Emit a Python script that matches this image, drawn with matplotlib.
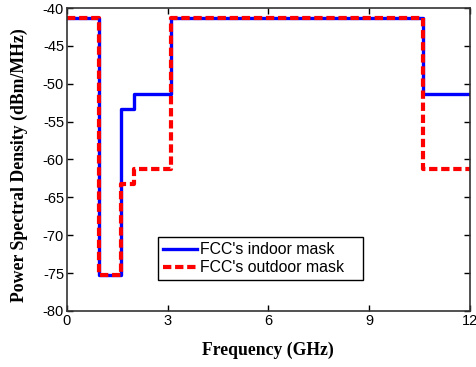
import numpy as np
import matplotlib.pyplot as plt

plt.rcParams['axes.unicode_minus'] = False

# FCC UWB emission masks (step breakpoints in GHz, limits in dBm/MHz)
freq = [0, 0.96, 1.61, 1.99, 3.1, 10.6, 12]
indoor = [-41.3, -75.3, -53.3, -51.3, -41.3, -51.3, -51.3]
outdoor = [-41.3, -75.3, -63.3, -61.3, -41.3, -61.3, -61.3]

fig = plt.figure(figsize=(4.77, 3.67), dpi=100)
ax = fig.add_axes([0.140, 0.153, 0.845, 0.825])

ax.plot(freq, indoor, drawstyle='steps-post', color='#0000ff', lw=2.4,
        label="FCC's indoor mask")
ax.plot(freq, outdoor, drawstyle='steps-post', color='#ff0000', lw=3.0,
        dashes=(2.0, 0.9), label="FCC's outdoor mask")

ax.set_xlim(0, 12)
ax.set_ylim(-80, -40)
ax.set_xticks([0, 3, 6, 9, 12])
ax.set_yticks(np.arange(-80, -39, 5))
ax.tick_params(direction='in', top=True, right=True, length=4, width=1,
               labelsize=10.5, pad=2)
for lab in ax.get_xticklabels() + ax.get_yticklabels():
    lab.set_fontfamily('Liberation Sans')
for s in ax.spines.values():
    s.set_linewidth(1.2)
    s.set_color('#333333')

ax.set_xlabel('Frequency (GHz)', fontfamily='Liberation Serif',
              fontweight='bold', fontsize=12.7, labelpad=10)
ax.set_ylabel('Power Spectral Density (dBm/MHz)', fontfamily='Liberation Serif',
              fontweight='bold', fontsize=12.8)
ax.yaxis.set_label_coords(-0.095, 0.48)

# legend box stretched to a fixed width
leg = ax.legend(loc='lower left', bbox_to_anchor=(0.226, 0.102, 0.508, 0.142),
                mode='expand', fancybox=False, framealpha=1, edgecolor='black',
                handlelength=2.2, handletextpad=0.15, borderpad=0.3,
                labelspacing=0.2, prop={'family': 'Liberation Sans', 'size': 11.4},
                borderaxespad=0)
leg.get_frame().set_linewidth(1.0)

plt.savefig('out.png', dpi=100)
